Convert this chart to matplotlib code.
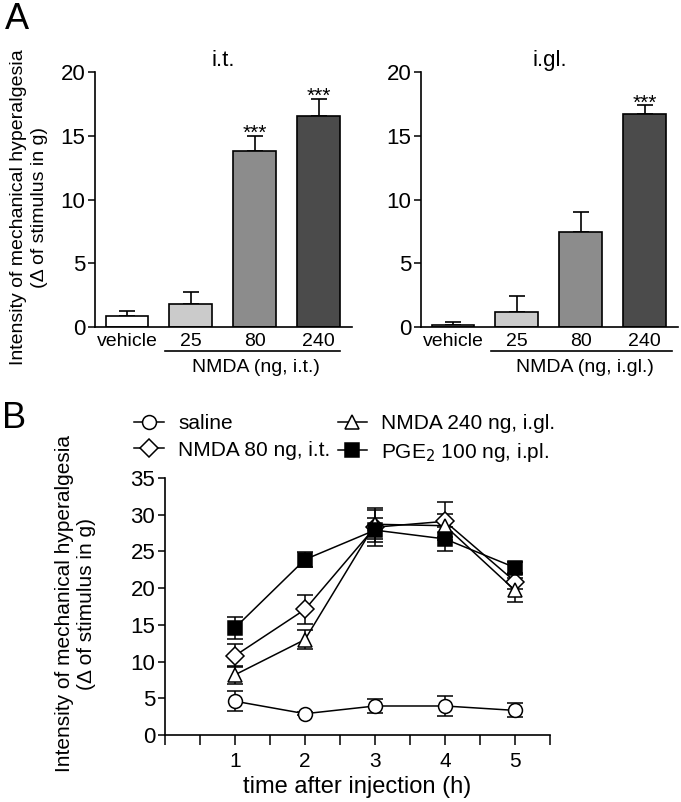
import numpy as np
import matplotlib
matplotlib.use("Agg")
import matplotlib.pyplot as plt
from matplotlib.lines import Line2D
import matplotlib.transforms as mtransforms

plt.rcParams['font.family'] = ['Liberation Sans', 'DejaVu Sans']

# --- panel A data ---
cats = ["vehicle", "25", "80", "240"]
bar_colors = ["white", "#cbcbcb", "#8c8c8c", "#4b4b4b"]
it_mean = [0.85, 1.8, 13.8, 16.55]
it_sem = [0.4, 0.95, 1.2, 1.35]
it_sig = ["", "", "***", "***"]
igl_mean = [0.17, 1.2, 7.45, 16.7]
igl_sem = [0.23, 1.25, 1.55, 0.7]
igl_sig = ["", "", "", "***"]

# --- panel B data ---
hours = [1, 2, 3, 4, 5]
saline = [4.6, 2.9, 3.95, 3.95, 3.35]
saline_err = [1.35, 0.2, 0.9, 1.3, 0.95]
nmda80 = [10.8, 17.1, 28.3, 29.1, 20.9]
nmda80_err = [1.55, 1.95, 2.6, 2.6, 1.0]
nmda240 = [8.2, 13.0, 28.7, 28.5, 19.7]
nmda240_err = [1.2, 1.3, 2.0, 1.6, 1.65]
pge2 = [14.6, 23.9, 27.9, 26.7, 22.8]
pge2_err = [1.5, 1.0, 1.6, 1.6, 0.7]

W, H = 681, 802
fig = plt.figure(figsize=(W / 100, H / 100), dpi=100)

def px(x0, y0, x1, y1):
    # pixel box -> figure fraction rect
    return [x0 / W, 1 - y1 / H, (x1 - x0) / W, (y1 - y0) / H]

def bar_panel(rect, means, sems, sigs, title, group_lbl, grp_x):
    ax = fig.add_axes(rect)
    x = np.arange(len(cats))
    ax.bar(x, means, width=0.67, color=bar_colors, edgecolor="black",
           linewidth=1.2, zorder=2)
    ax.errorbar(x, means, yerr=[np.zeros(len(sems)), sems], fmt="none",
                ecolor="black", elinewidth=1.2, capsize=5.5, capthick=1.2,
                zorder=1)
    for xi, m, s, t in zip(x, means, sems, sigs):
        if t:
            ax.text(xi, m + s - 0.25, t, ha="center", va="baseline",
                    fontsize=15)
    ax.set_xlim(-0.5, 3.52)
    ax.set_ylim(0, 20)
    ax.set_yticks([0, 5, 10, 15, 20])
    ax.tick_params(axis="y", labelsize=16, length=5, width=1.1, pad=2)
    ax.set_xticks(x)
    ax.set_xticklabels(cats, fontsize=14)
    ax.tick_params(axis="x", length=0, pad=4)
    for s in ["top", "right"]:
        ax.spines[s].set_visible(False)
    for s in ["left", "bottom"]:
        ax.spines[s].set_linewidth(1.2)
    ax.set_title(title, fontsize=16, pad=4)
    # group bracket under NMDA doses
    tr = mtransforms.blended_transform_factory(ax.transData, ax.transAxes)
    ax.plot(grp_x, [-0.094, -0.094], color="black", lw=1.2, clip_on=False,
            transform=tr)
    ax.text(np.mean(grp_x) + 0.05, -0.157, group_lbl, ha="center",
            va="center", fontsize=14, transform=tr)
    return ax

bar_panel(px(95, 72, 352, 327), it_mean, it_sem, it_sig, "i.t.",
          "NMDA (ng, i.t.)", [0.59, 3.33])
bar_panel(px(421, 72, 678, 327), igl_mean, igl_sem, igl_sig, "i.gl.",
          "NMDA (ng, i.gl.)", [0.6, 3.42])

ylab = "Intensity of mechanical hyperalgesia\n(\u0394 of stimulus in g)"
fig.text(29 / W, 1 - 207 / H, ylab, rotation=90, ha="center", va="center",
         fontsize=14, linespacing=1.3)
fig.text(5 / W, 1 - 2 / H, "A", fontsize=26, ha="left", va="top")

# --- panel B ---
axb = fig.add_axes(px(165, 478, 550, 735))
series = [
    ("saline", saline, saline_err, "o", "white", 10),
    ("NMDA 80 ng, i.t.", nmda80, nmda80_err, "D", "white", 9),
    ("NMDA 240 ng, i.gl.", nmda240, nmda240_err, "^", "white", 10),
    ("PGE$_2$ 100 ng, i.pl.", pge2, pge2_err, "s", "black", 9.5),
]
handles = []
for lbl, y, e, mk, fc, ms in series:
    axb.errorbar(hours, y, yerr=e, fmt="-", color="black", lw=1.1,
                 marker=mk, mfc=fc, mec="black", ms=ms, mew=1.1,
                 capsize=6, capthick=1.1, elinewidth=1.1)
    handles.append(Line2D([], [], color="black", lw=1.1, marker=mk, mfc=fc,
                          mec="black", ms=ms, mew=1.1, label=lbl))
axb.set_xlim(0, 5.5)
axb.set_ylim(0, 35)
axb.set_yticks(np.arange(0, 36, 5))
xt = np.arange(0, 5.51, 0.5)
axb.set_xticks(xt)
axb.set_xticklabels([str(int(v)) if (v % 1 == 0 and 1 <= v <= 5) else ""
                     for v in xt])
axb.tick_params(axis="y", labelsize=16, length=5, width=1.1, pad=2)
axb.tick_params(axis="x", labelsize=15, length=7, width=1.1, pad=5)
for s in ["top", "right"]:
    axb.spines[s].set_visible(False)
for s in ["left", "bottom"]:
    axb.spines[s].set_linewidth(1.2)
axb.set_xlabel("time after injection (h)", fontsize=17, labelpad=4)
fig.text(76 / W, 1 - 604 / H, ylab, rotation=90, ha="center", va="center",
         fontsize=15, linespacing=1.2)
fig.text(2 / W, 1 - 401 / H, "B", fontsize=26, ha="left", va="top")

fig.legend(handles=handles, ncol=2, loc="upper left",
           bbox_to_anchor=(124 / W, 1 - 404 / H), frameon=False,
           fontsize=15, handlelength=1.4, handletextpad=0.7,
           columnspacing=0.35, labelspacing=0.35, borderpad=0)

fig.savefig("out.png", dpi=100)
